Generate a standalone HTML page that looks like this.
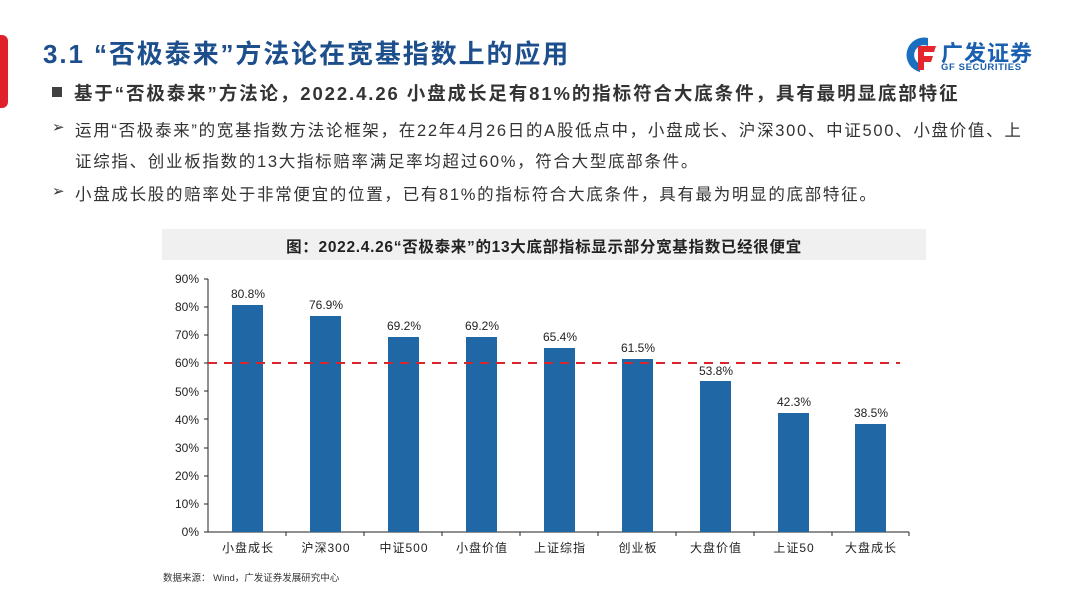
<!DOCTYPE html>
<html><head><meta charset="utf-8"><style>
html,body{margin:0;padding:0;background:#fff;}
body{width:1080px;height:608px;position:relative;overflow:hidden;font-family:"Liberation Sans","Noto Sans CJK SC",sans-serif;}
.t{position:absolute;white-space:nowrap;}
</style></head><body>
<div style="position:absolute;left:0;top:35px;width:8px;height:73px;background:#e0202a;border-radius:0 6px 6px 0"></div>
<div class="t" style="left:43px;top:34px;font-size:26px;font-weight:bold;color:#1d4f8d;letter-spacing:1.9px">3.1 “否极泰来”方法论在宽基指数上的应用</div>
<div class="t" style="left:906px;top:36px;width:30px;height:36px">
<svg width="32" height="38" viewBox="0 0 32 38"><path d="M22 2 A16 16 0 1 0 14 36 L14 28 A9 9 0 1 1 22 10Z" fill="#1a6fc1"/><path d="M12 10 L30 10 L28 16 L18 16 L18 20 L27 20 L25 26 L18 26 L18 34 L12 34Z" fill="#e5262d"/></svg></div>
<div class="t" style="left:941px;top:36px;font-size:22px;font-weight:bold;color:#1a5fb0;letter-spacing:1px">广发证券</div>
<div class="t" style="left:941px;top:62px;font-size:9.5px;font-weight:bold;color:#1a5fb0;letter-spacing:0.6px">GF SECURITIES</div>
<div style="position:absolute;left:52px;top:87px;width:10px;height:10px;background:#404040"></div>
<div class="t" style="left:74px;top:80px;font-size:18.5px;font-weight:bold;color:#333;letter-spacing:1.9px">基于“否极泰来”方法论，2022.4.26 小盘成长足有81%的指标符合大底条件，具有最明显底部特征</div>
<div class="t" style="left:52px;top:118px;font-size:15px;color:#333">➢</div>
<div class="t" style="left:75px;top:117px;font-size:16.5px;color:#333;letter-spacing:1.7px">运用“否极泰来”的宽基指数方法论框架，在22年4月26日的A股低点中，小盘成长、沪深300、中证500、小盘价值、上</div>
<div class="t" style="left:75px;top:148px;font-size:16.5px;color:#333;letter-spacing:1.7px">证综指、创业板指数的13大指标赔率满足率均超过60%，符合大型底部条件。</div>
<div class="t" style="left:52px;top:182px;font-size:15px;color:#333">➢</div>
<div class="t" style="left:75px;top:181px;font-size:16.5px;color:#333;letter-spacing:1.7px">小盘成长股的赔率处于非常便宜的位置，已有81%的指标符合大底条件，具有最为明显的底部特征。</div>
<div style="position:absolute;left:162px;top:229px;width:764px;height:31px;background:#f0f0f0"></div>
<div class="t" style="left:162px;top:235px;width:764px;text-align:center;font-size:15.5px;font-weight:bold;color:#222;letter-spacing:0.7px">图：2022.4.26“否极泰来”的13大底部指标显示部分宽基指数已经很便宜</div>
<svg style="position:absolute;left:0;top:0" width="1080" height="608" font-family="Liberation Sans, Noto Sans CJK SC, sans-serif">
<g font-size="12" fill="#222" text-anchor="end">
<text x="199" y="536">0%</text><text x="199" y="508">10%</text><text x="199" y="480">20%</text><text x="199" y="452">30%</text><text x="199" y="424">40%</text><text x="199" y="396">50%</text><text x="199" y="367">60%</text><text x="199" y="339">70%</text><text x="199" y="311">80%</text><text x="199" y="283">90%</text>
</g>
<g stroke="#222" stroke-width="1">
<line x1="208" y1="279" x2="208" y2="532"/><line x1="208" y1="532" x2="909" y2="532"/>
<line x1="204" y1="279" x2="208" y2="279"/><line x1="204" y1="307" x2="208" y2="307"/><line x1="204" y1="335" x2="208" y2="335"/><line x1="204" y1="363" x2="208" y2="363"/><line x1="204" y1="391" x2="208" y2="391"/><line x1="204" y1="419" x2="208" y2="419"/><line x1="204" y1="448" x2="208" y2="448"/><line x1="204" y1="476" x2="208" y2="476"/><line x1="204" y1="504" x2="208" y2="504"/><line x1="204" y1="532" x2="208" y2="532"/>
<line x1="286" y1="532" x2="286" y2="536"/><line x1="364" y1="532" x2="364" y2="536"/><line x1="442" y1="532" x2="442" y2="536"/><line x1="520" y1="532" x2="520" y2="536"/><line x1="598" y1="532" x2="598" y2="536"/><line x1="676" y1="532" x2="676" y2="536"/><line x1="754" y1="532" x2="754" y2="536"/><line x1="832" y1="532" x2="832" y2="536"/><line x1="909" y1="532" x2="909" y2="536"/>
</g>
<g fill="#1f67a5">
<rect x="232" y="305" width="31" height="227"/>
<rect x="310" y="316" width="31" height="216"/>
<rect x="388" y="337" width="31" height="195"/>
<rect x="466" y="337" width="31" height="195"/>
<rect x="544" y="348" width="31" height="184"/>
<rect x="622" y="359" width="31" height="173"/>
<rect x="700" y="381" width="31" height="151"/>
<rect x="778" y="413" width="31" height="119"/>
<rect x="855" y="424" width="31" height="108"/>
</g>
<line x1="208" y1="363" x2="900" y2="363" stroke="#d9262c" stroke-width="2" stroke-dasharray="9,7"/>
<g font-size="12" fill="#222" text-anchor="middle">
<text x="248" y="298">80.8%</text><text x="326" y="309">76.9%</text><text x="404" y="330">69.2%</text><text x="482" y="330">69.2%</text><text x="560" y="341">65.4%</text><text x="638" y="352">61.5%</text><text x="716" y="375">53.8%</text><text x="794" y="406">42.3%</text><text x="871" y="417">38.5%</text>
</g>
<g font-size="12" fill="#222" text-anchor="middle" letter-spacing="1">
<text x="248" y="552">小盘成长</text><text x="326" y="552">沪深300</text><text x="404" y="552">中证500</text><text x="482" y="552">小盘价值</text><text x="560" y="552">上证综指</text><text x="638" y="552">创业板</text><text x="716" y="552">大盘价值</text><text x="794" y="552">上证50</text><text x="871" y="552">大盘成长</text>
</g>
<text x="163" y="581" font-size="9.5" fill="#333">数据来源： Wind，广发证券发展研究中心</text>
</svg>
</body></html>
